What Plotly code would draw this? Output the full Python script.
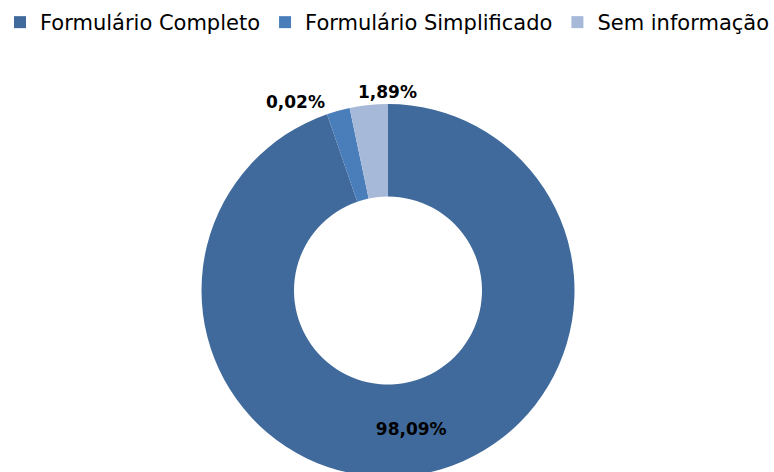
import math
import plotly.graph_objects as go

categories = ["Formulário Completo", "Formulário Simplificado", "Sem informação"]
# slice sizes as drawn in the picture (percent of circle)
values = [94.7, 2.0, 3.3]
# data labels as printed on the chart
labels_text = ["98,09%", "0,02%", "1,89%"]
colors = ["#406A9B", "#4A7EBB", "#A7B9D8"]

W, H = 774, 500
# pie geometry (pixels)
CX, CY, R = 388.0, 290.5, 186.5

fig = go.Figure(
    go.Pie(
        labels=categories,
        values=values,
        text=[labels_text[0], "", ""],
        textinfo="text",
        textposition="inside",
        insidetextorientation="horizontal",
        hole=0.504,
        sort=False,
        direction="clockwise",
        rotation=0,
        marker=dict(colors=colors, line=dict(width=0)),
        textfont=dict(family="DejaVu Sans", size=17, color="#000000", weight="bold"),
        domain=dict(x=[(CX - R) / W, (CX + R) / W], y=[1 - (CY + R) / H, 1 - (CY - R) / H]),
        showlegend=True,
    )
)

# outside labels for the two thin slices, placed at the slice edges
total = sum(values)
cum = [sum(values[:i]) / total for i in range(len(values) + 1)]


def edge_point(frac):
    a = 2 * math.pi * frac
    return (CX + R * math.sin(a)) / W, 1 - (CY - R * math.cos(a)) / H


x1, y1 = edge_point(cum[1])  # start edge of "Formulário Simplificado"
x2, y2 = edge_point(cum[3])  # end edge of "Sem informação"
for (x, y, txt, xa) in [(x1, y1, labels_text[1], "right"), (x2, y2, labels_text[2], "center")]:
    fig.add_annotation(
        x=x, y=y, xref="paper", yref="paper", text=txt, showarrow=False,
        xanchor=xa, yanchor="bottom",
        font=dict(family="DejaVu Sans", size=17, color="#000000", weight="bold"),
    )

fig.update_layout(
    width=W,
    height=H,
    margin=dict(l=0, r=0, t=0, b=0),
    paper_bgcolor="white",
    plot_bgcolor="white",
    font=dict(family="DejaVu Sans", color="#000000"),
    legend=dict(
        orientation="h",
        x=0,
        xanchor="left",
        y=1 - 2 / H,
        yanchor="top",
        font=dict(family="DejaVu Sans", size=21, color="#000000"),
        traceorder="normal",
    ),
)

fig.write_html(
    "out.html",
    config={"displayModeBar": False},
    post_script="document.body.style.margin='0';document.body.style.overflow='hidden';",
)
